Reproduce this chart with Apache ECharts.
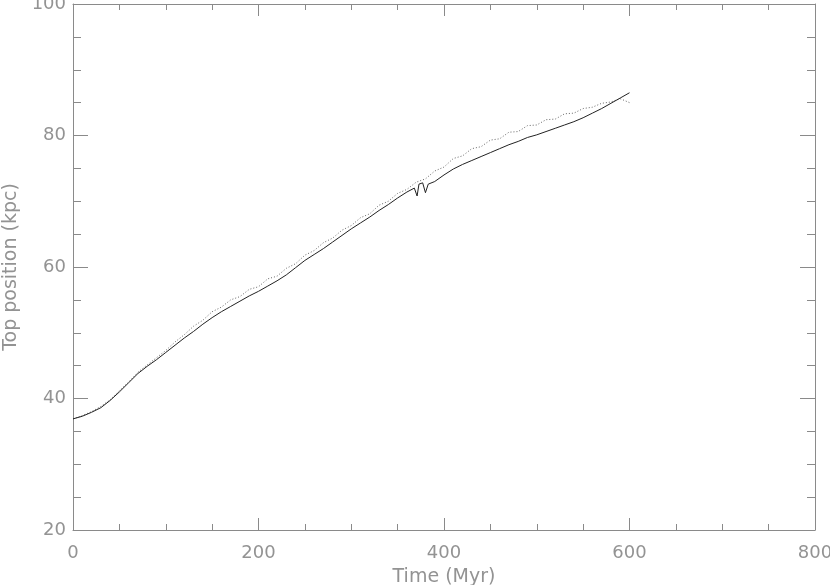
<!DOCTYPE html>
<html>
<head>
<meta charset="utf-8">
<script src="https://cdn.jsdelivr.net/npm/echarts@6/dist/echarts.min.js"></script>
<style>html,body{margin:0;padding:0;background:#fff}#c{width:830px;height:585px}</style>
</head>
<body>
<div id="c"></div>
<script>
const xTicks = [0, 200, 400, 600, 800];
const yTicks = [20, 40, 60, 80, 100];
const solidT = [0,10,20,30,40,50,60,70,80,90,100,110,120,130,140,150,160,170,180,190,200,210,220,230,240,250,260,270,280,290,300,310,320,330,340,350,360,368,371,373,377,380,383,390,400,410,420,430,440,450,460,470,480,490,500,510,520,530,540,550,560,570,580,590,600];
const solidY = [36.9,37.3,37.9,38.6,39.7,41.0,42.4,43.8,44.9,45.9,47.0,48.1,49.2,50.2,51.3,52.3,53.2,54.0,54.8,55.6,56.3,57.1,57.9,58.8,59.9,61.0,61.9,62.8,63.8,64.8,65.8,66.7,67.6,68.6,69.5,70.5,71.4,72.0,70.8,72.6,72.8,71.3,72.6,73.0,74.0,74.9,75.6,76.2,76.8,77.4,78.0,78.6,79.1,79.7,80.1,80.6,81.1,81.6,82.1,82.7,83.4,84.1,84.9,85.7,86.5];
const dotT = [0,10,20,30,40,50,60,70,80,90,100,110,120,130,140,150,160,170,180,190,200,210,220,230,240,250,260,270,280,290,300,310,320,330,340,350,360,370,380,390,400,410,420,430,440,450,460,470,480,490,500,510,520,530,540,550,560,570,580,590,600];
const dotY = [36.9,37.4,38.0,38.8,39.8,41.2,42.5,44.0,45.1,46.2,47.3,48.6,49.7,51.0,51.9,53.2,53.9,55.0,55.5,56.6,57.0,58.2,58.6,59.8,60.5,61.8,62.5,63.7,64.4,65.6,66.3,67.5,68.1,69.4,70.0,71.2,71.8,72.9,73.4,74.6,75.2,76.5,76.9,78.0,78.3,79.3,79.5,80.5,80.6,81.5,81.6,82.4,82.5,83.3,83.4,84.1,84.3,84.9,85.1,85.6,85.0];

const axisCol = '#8a8a8a';
const txtCol = '#939393';
const font = 'DejaVu Sans';
function xAx(pos, show) {
  return {
    type: 'value', position: pos, min: xTicks[0], max: xTicks[xTicks.length-1], interval: 200,
    axisLine: {show: true, onZero: false, lineStyle: {color: axisCol, width: 1}},
    axisTick: {show: true, inside: true, length: 12, lineStyle: {color: axisCol}},
    minorTick: {show: true, splitNumber: 4, length: 6, lineStyle: {color: axisCol}},
    splitLine: {show: false},
    axisLabel: {show: show, color: txtCol, fontSize: 18, fontFamily: font, margin: 14},
    name: show ? 'Time (Myr)' : '', nameLocation: 'middle', nameGap: 38,
    nameTextStyle: {color: txtCol, fontSize: 19, fontFamily: font}
  };
}
function yAx(pos, show) {
  return {
    type: 'value', position: pos, min: yTicks[0], max: yTicks[yTicks.length-1], interval: 20,
    axisLine: {show: true, onZero: false, lineStyle: {color: axisCol, width: 1}},
    axisTick: {show: true, inside: true, length: 15, lineStyle: {color: axisCol}},
    minorTick: {show: true, splitNumber: 4, length: 8, lineStyle: {color: axisCol}},
    splitLine: {show: false},
    axisLabel: {show: show, color: txtCol, fontSize: 18, fontFamily: font, margin: 7},
    name: show ? 'Top position (kpc)' : '', nameLocation: 'middle', nameGap: 48, nameRotate: 90,
    nameTextStyle: {color: txtCol, fontSize: 19, fontFamily: font}
  };
}
const chart = echarts.init(document.getElementById('c'), null, {renderer: 'canvas'});
chart.setOption({
  animation: false,
  backgroundColor: '#fff',
  grid: {left: 73, right: 15, top: 4, bottom: 55, containLabel: false, outerBoundsMode: 'none'},
  xAxis: [xAx('bottom', true), xAx('top', false)],
  yAxis: [yAx('left', true), yAx('right', false)],
  series: [
    {type: 'line', xAxisIndex: 0, yAxisIndex: 0, showSymbol: false, symbol: 'none',
     data: dotT.map((t, i) => [t, dotY[i]]),
     lineStyle: {color: '#666', width: 1, type: [1, 2]}},
    {type: 'line', xAxisIndex: 0, yAxisIndex: 0, showSymbol: false, symbol: 'none',
     data: solidT.map((t, i) => [t, solidY[i]]),
     lineStyle: {color: '#222', width: 1}}
  ]
});
</script>
</body>
</html>
